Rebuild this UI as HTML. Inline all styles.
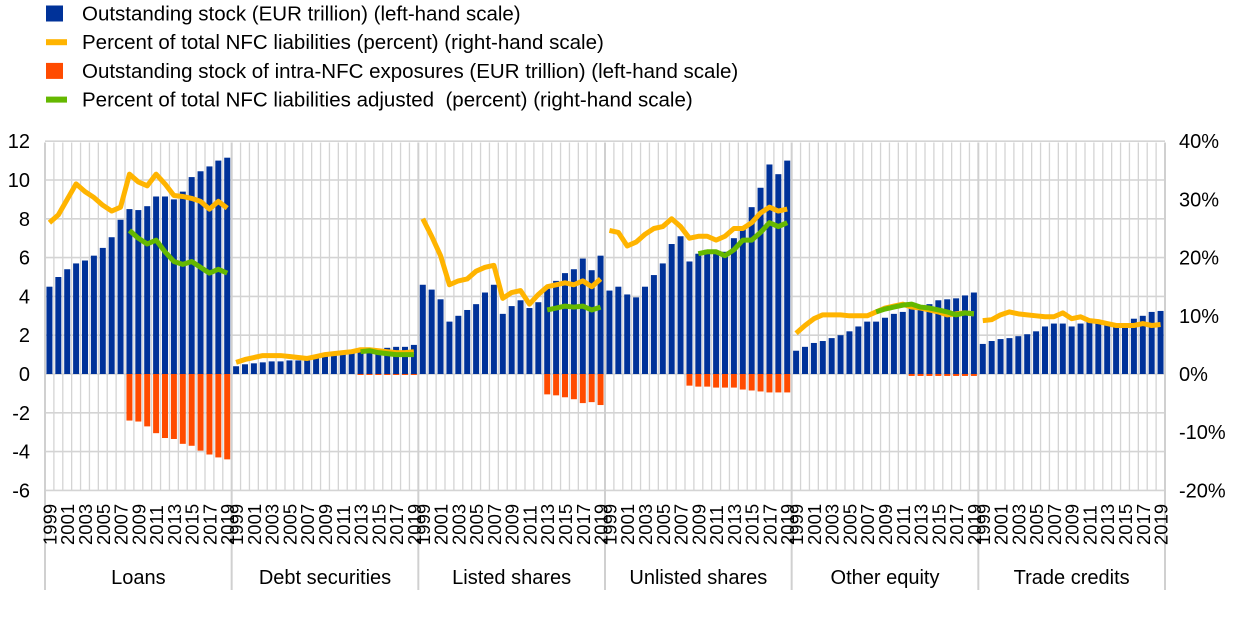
<!DOCTYPE html>
<html><head><meta charset="utf-8"><style>
body{margin:0;background:#fff;}
svg{display:block;font-family:"Liberation Sans",Arial,sans-serif;}
</style></head><body>
<svg id="c" width="1240" height="618" xmlns="http://www.w3.org/2000/svg"></svg>
<script>
const S=document.getElementById('c');let h='';
const L=45,R=1165,T=142.5,Z=374,U=19.4;
const GW=(R-L)/6,SW=GW/21;
const y=v=>Z-v*U;
for(let i=0;i<=126;i++){const x=L+i*SW;h+=`<line x1="${x}" x2="${x}" y1="${T}" y2="${y(-6)}" stroke="#d4d4d4" stroke-width="1.3"/>`;}
for(let v=-6;v<=12;v+=2){h+=`<line x1="${L}" x2="${R}" y1="${y(v)}" y2="${y(v)}" stroke="#d4d4d4" stroke-width="1.6"/>`;
h+=`<text x="${L-15}" y="${y(v)+7}" font-size="20" text-anchor="end">${v}</text>`;}
for(let p=40,i=0;p>=-20;p-=10,i++){h+=`<text x="${R+14}" y="${y(12-i*3)+7}" font-size="20">${p}%</text>`;}
for(let g=0;g<=6;g++){const x=L+g*GW;h+=`<line x1="${x}" x2="${x}" y1="${T}" y2="590" stroke="#d0d0d0" stroke-width="2"/>`;}
const D=[
{n:'Loans',b:[4.5,5.0,5.4,5.7,5.85,6.1,6.5,7.05,7.95,8.5,8.45,8.65,9.15,9.15,9.0,9.4,10.15,10.45,10.7,11.0,11.15],
o:[7.8,8.2,9.0,9.8,9.4,9.1,8.7,8.4,8.6,10.3,9.9,9.7,10.3,9.8,9.2,9.15,9.05,8.9,8.5,8.9,8.55],
r:[9,[-2.4,-2.45,-2.7,-3.05,-3.3,-3.35,-3.6,-3.7,-3.95,-4.15,-4.3,-4.4]],
g:[9,[7.4,7.0,6.7,6.9,6.3,5.8,5.65,5.8,5.5,5.2,5.4,5.2]]},
{n:'Debt securities',b:[0.4,0.5,0.55,0.6,0.65,0.65,0.7,0.7,0.7,0.8,0.9,1.0,1.05,1.1,1.2,1.25,1.3,1.35,1.4,1.4,1.5],
o:[0.6,0.75,0.85,0.95,0.95,0.95,0.9,0.85,0.8,0.9,1.0,1.05,1.1,1.15,1.25,1.25,1.2,1.15,1.1,1.1,1.15],
r:[14,[-0.05,-0.05,-0.05,-0.05,-0.05,-0.05,-0.05]],g:[14,[1.15,1.2,1.1,1.05,1.0,1.0,1.0]]},
{n:'Listed shares',b:[4.6,4.35,3.85,2.7,3.0,3.3,3.6,4.2,4.6,3.1,3.5,3.8,3.4,3.7,4.4,4.8,5.2,5.4,5.95,5.35,6.1],
o:[8.0,7.1,6.1,4.6,4.8,4.9,5.3,5.5,5.6,3.9,4.2,4.3,3.6,4.1,4.5,4.6,4.7,4.6,4.8,4.5,4.9],
r:[14,[-1.05,-1.1,-1.2,-1.3,-1.5,-1.45,-1.6]],g:[14,[3.3,3.4,3.5,3.45,3.5,3.3,3.45]]},
{n:'Unlisted shares',b:[4.3,4.5,4.1,3.95,4.5,5.1,5.7,6.7,7.1,5.8,6.2,6.4,6.2,6.3,7.0,7.6,8.6,9.6,10.8,10.3,11.0],
o:[7.4,7.3,6.6,6.8,7.2,7.5,7.6,8.0,7.6,7.0,7.1,7.1,6.9,7.1,7.5,7.5,7.8,8.3,8.6,8.4,8.5],
r:[9,[-0.6,-0.65,-0.65,-0.7,-0.7,-0.7,-0.8,-0.85,-0.9,-0.95,-0.95,-0.95]],g:[10,[6.2,6.3,6.3,6.1,6.4,6.9,6.9,7.3,7.8,7.6,7.8]]},
{n:'Other equity',b:[1.2,1.4,1.6,1.7,1.85,2.0,2.2,2.45,2.7,2.7,2.9,3.1,3.2,3.4,3.5,3.6,3.8,3.85,3.9,4.05,4.2],
o:[2.1,2.5,2.85,3.05,3.05,3.05,3.0,3.0,3.0,3.2,3.4,3.5,3.6,3.45,3.4,3.3,3.2,3.05,3.1,3.15,3.1],
r:[13,[-0.1,-0.1,-0.1,-0.1,-0.1,-0.1,-0.1,-0.1]],g:[9,[3.2,3.35,3.45,3.55,3.6,3.45,3.4,3.3,3.2,3.05,3.15,3.1]]},
{n:'Trade credits',b:[1.55,1.7,1.8,1.85,1.95,2.05,2.2,2.45,2.6,2.6,2.45,2.6,2.7,2.65,2.5,2.5,2.6,2.85,3.0,3.2,3.25],
o:[2.75,2.8,3.05,3.2,3.1,3.05,3.0,2.95,2.95,3.15,2.85,2.95,2.75,2.7,2.6,2.5,2.5,2.5,2.6,2.5,2.55]}
];
const bw=6;
D.forEach((d,g)=>{const x0=L+g*GW;const cx=i=>x0+(i+0.5)*SW;
d.b.forEach((v,i)=>{h+=`<rect x="${cx(i)-bw/2}" y="${y(v)}" width="${bw}" height="${v*U}" fill="#003299"/>`;});
if(d.r)d.r[1].forEach((v,i)=>{h+=`<rect x="${cx(i+d.r[0])-bw/2}" y="${Z}" width="${bw}" height="${-v*U}" fill="#FF4B00"/>`;});
h+=`<polyline fill="none" stroke="#FFB400" stroke-width="5" stroke-linejoin="round" points="${d.o.map((v,i)=>cx(i)+','+y(v)).join(' ')}"/>`;
if(d.g)h+=`<polyline fill="none" stroke="#65B800" stroke-width="5" stroke-linejoin="round" points="${d.g[1].map((v,i)=>cx(i+d.g[0])+','+y(v)).join(' ')}"/>`;
for(let i=0;i<21;i+=2){h+=`<text transform="translate(${cx(i)+7},545) rotate(-90)" font-size="18.5">${1999+i}</text>`;}
h+=`<text x="${x0+GW/2}" y="584" font-size="20" text-anchor="middle">${d.n}</text>`;
});
const lg=[['r','#003299','Outstanding stock (EUR trillion) (left-hand scale)'],['l','#FFB400','Percent of total NFC liabilities (percent) (right-hand scale)'],['r','#FF4B00','Outstanding stock of intra-NFC exposures (EUR trillion) (left-hand scale)'],['l','#65B800','Percent of total NFC liabilities adjusted  (percent) (right-hand scale)']];
lg.forEach((e,i)=>{const yy=13.5+i*28.7;
if(e[0]=='r')h+=`<rect x="46" y="${yy-8}" width="17" height="16" fill="${e[1]}"/>`;else h+=`<rect x="46" y="${yy-3}" width="21" height="6" fill="${e[1]}"/>`;
h+=`<text x="82" y="${yy+7}" font-size="20.5" xml:space="preserve">${e[2]}</text>`;});
S.innerHTML=h;
</script>
</body></html>
